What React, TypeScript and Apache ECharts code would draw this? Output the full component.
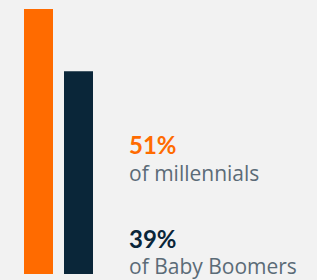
import React, { useEffect, useRef } from "react";
import * as echarts from "echarts";

const categories = ["Millennials", "Baby Boomers"];
const values = [51, 39];
const valueLabels = ["51%", "39%"];
const descLabels = ["of millennials", "of Baby Boomers"];
const colors = ["#FF6B00", "#0A2639"];

export default function App() {
  const ref = useRef<HTMLDivElement>(null);
  useEffect(() => {
    const chart = echarts.init(ref.current!, null, { renderer: "svg" });
    chart.setOption({
      animation: false,
      backgroundColor: "#F2F2F2",
      grid: { left: 18.5, width: 80, top: 9, bottom: 6 },
      xAxis: {
        type: "category",
        data: categories,
        show: false,
      },
      yAxis: { type: "value", min: 0, max: 51, show: false },
      series: [
        {
          type: "bar",
          barWidth: 29,
          data: values.map((v, i) => ({ value: v, itemStyle: { color: colors[i] } })),
        },
      ],
      graphic: [
        {
          type: "text",
          left: 129,
          top: 132,
          style: {
            text: valueLabels[0],
            fill: colors[0],
            font: "bold 24px Lato",
          },
        },
        {
          type: "text",
          left: 129,
          top: 162.5,
          style: {
            text: descLabels[0],
            fill: "#5B6B77",
            font: "21px 'Open Sans'",
          },
        },
        {
          type: "text",
          left: 129,
          top: 226,
          style: {
            text: valueLabels[1],
            fill: colors[1],
            font: "bold 24px Lato",
          },
        },
        {
          type: "text",
          left: 129,
          top: 255.5,
          style: {
            text: descLabels[1],
            fill: "#5B6B77",
            font: "21px 'Open Sans'",
          },
        },
      ],
    });
    return () => chart.dispose();
  }, []);
  return <div ref={ref} style={{ width: 317, height: 280, position: "absolute", left: 0, top: 0 }} />;
}
